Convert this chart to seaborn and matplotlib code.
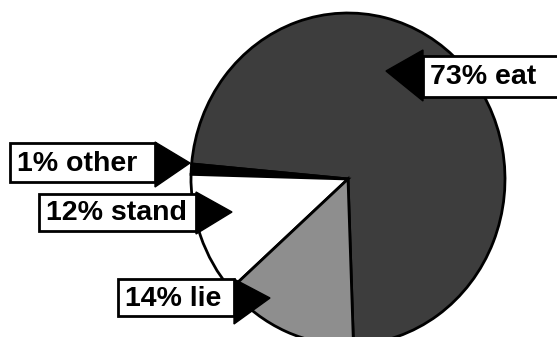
import matplotlib
matplotlib.use("Agg")
import matplotlib.pyplot as plt
from matplotlib.patches import Rectangle, Polygon
import seaborn as sns

# ---- data ----
categories = ["eat", "other", "stand", "lie"]
percent = [73, 1, 12, 14]
label_texts = ["73% eat", "1% other", "12% stand", "14% lie"]
slice_colors = ["#3d3d3d", "#000000", "#ffffff", "#8e8e8e"]

sns.set_theme(style="white")
plt.rcParams["font.family"] = ["Liberation Sans", "DejaVu Sans"]

W, H = 557, 337
fig = plt.figure(figsize=(W / 100, H / 100), dpi=100)
ax = fig.add_axes([0, 0, 1, 1])

# pie geometry (pixels): centre, horizontal / vertical radius
cx, cy, rx, ry = 348, 179, 157, 166

ax.pie(percent, colors=slice_colors, startangle=-88, counterclock=True,
       radius=1, center=(0, 0),
       wedgeprops=dict(edgecolor="black", linewidth=2))
ax.set_aspect("auto")
ax.set_xlim(-cx / rx, (W - cx) / rx)
ax.set_ylim(-(H - cy) / ry, cy / ry)
ax.axis("off")

# label boxes (pixel coords, y down): box (x0, y0, x1, y1), triangle pts
label_layout = {
    "eat":   dict(box=(423, 56, 562, 97), tri=[(423, 50), (423, 101), (386, 71)]),
    "other": dict(box=(10, 143, 155, 182), tri=[(155, 142), (155, 187), (190, 163)]),
    "stand": dict(box=(39, 194, 196, 231), tri=[(196, 192), (196, 234), (232, 212)]),
    "lie":   dict(box=(118, 279, 234, 316), tri=[(234, 279), (234, 324), (270, 298)]),
}

def fx(x):
    return x / W

def fy(y):
    return 1 - y / H

for cat, txt in zip(categories, label_texts):
    lay = label_layout[cat]
    x0, y0, x1, y1 = lay["box"]
    fig.add_artist(Polygon([(fx(px), fy(py)) for px, py in lay["tri"]],
                           closed=True, transform=fig.transFigure,
                           facecolor="black", edgecolor="black", lw=1, zorder=5))
    fig.add_artist(Rectangle((fx(x0), fy(y1)), fx(x1) - fx(x0), fy(y0) - fy(y1),
                             transform=fig.transFigure, facecolor="white",
                             edgecolor="black", lw=2, zorder=6))
    fig.text(fx(x0 + 7), fy((y0 + y1) / 2 + 1), txt, fontsize=20.5,
             fontweight="bold", color="black", ha="left", va="center",
             zorder=7)

fig.savefig("out.png", dpi=100, facecolor="white")
